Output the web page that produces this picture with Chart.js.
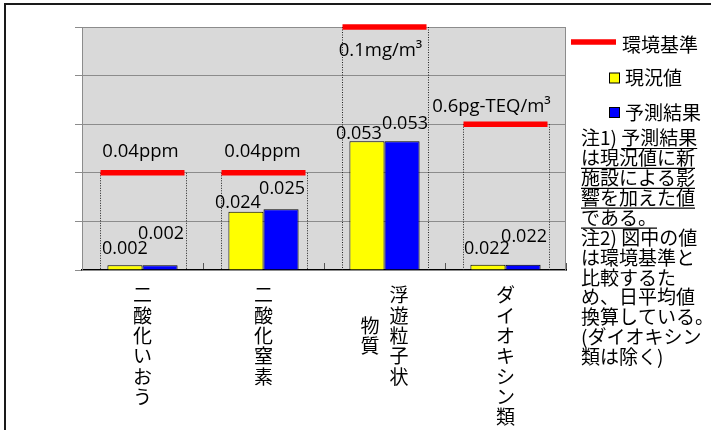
<!DOCTYPE html>
<html>
<head>
<meta charset="utf-8">
<script src="https://cdn.jsdelivr.net/npm/chart.js@4/dist/chart.umd.min.js"></script>
<style>
  html, body { margin: 0; padding: 0; background: #fff; }
  #wrap { width: 715px; height: 430px; position: relative; }
</style>
</head>
<body>
<div id="wrap"><canvas id="c" width="715" height="430"></canvas></div>
<script>
// Substances (each entry lists the vertical text columns, right to left)
const categories = [['二酸化いおう'], ['二酸化窒素'], ['浮遊粒子状', '物質'], ['ダイオキシン類']];
// Measured values, in each substance's own unit
const currentValues = [0.002, 0.024, 0.053, 0.022];
const forecastValues = [0.002, 0.025, 0.053, 0.022];
// Environmental standards and their labels
const standardValues = [0.04, 0.04, 0.1, 0.6];
const standardLabels = ['0.04ppm', '0.04ppm', '0.1mg/m³', '0.6pg-TEQ/m³'];
// Axis level at which each standard is plotted (values are scaled against it)
const standardLevels = [2, 2, 5, 3];
const yTicks = [0, 1, 2, 3, 4, 5];
const seriesNames = ['環境基準', '現況値', '予測結果'];
const valueLabels = [
  currentValues.map(String),
  forecastValues.map(String)
];
const notes = [
  '注1) 予測結果',
  'は現況値に新',
  '施設による影',
  '響を加えた値',
  'である。',
  '注2) 図中の値',
  'は環境基準と',
  '比較するた',
  'め、日平均値',
  '換算している。',
  '(ダイオキシン',
  '類は除く)'
];

// Values are drawn relative to the standard of their substance
const toLevel = (v, i) => v / standardValues[i] * standardLevels[i];
const currentLevels = currentValues.map(toLevel);
const forecastLevels = forecastValues.map(toLevel);

const RED = '#ff0000', YELLOW = '#ffff00', BLUE = '#0000ff';
const LATIN = '"Open Sans", "Liberation Sans", sans-serif';
const CJK = '"Noto Sans CJK JP", "Noto Sans", sans-serif';

const decor = {
  id: 'decor',
  beforeDraw(chart) {
    const { ctx, chartArea: a } = chart;
    ctx.save();
    ctx.fillStyle = '#fff';
    ctx.fillRect(0, 0, chart.width, chart.height);
    // outer frame
    ctx.strokeStyle = '#1a1a1a';
    ctx.lineWidth = 2;
    ctx.beginPath();
    ctx.moveTo(5, 430);
    ctx.lineTo(5, 4);
    ctx.lineTo(711, 4);
    ctx.stroke();
    // plot background
    ctx.fillStyle = '#d9d9d9';
    ctx.fillRect(a.left, a.top, a.right - a.left, a.bottom - a.top);
    ctx.restore();
  },
  beforeDatasetsDraw(chart) {
    const { ctx, chartArea: a } = chart;
    const meta = chart.getDatasetMeta(0);
    ctx.save();
    // plot frame
    ctx.strokeStyle = '#8c8c8c';
    ctx.lineWidth = 1;
    ctx.strokeRect(a.left + 0.5, a.top + 0.5, a.right - a.left - 1, a.bottom - a.top);
    // dotted drop lines under each standard line
    ctx.strokeStyle = '#222';
    ctx.setLineDash([1, 1.5]);
    meta.data.forEach(pt => {
      [-43, 43].forEach(dx => {
        const x = Math.round(pt.x + dx) + 0.5;
        ctx.beginPath();
        ctx.moveTo(x, pt.y);
        ctx.lineTo(x, a.bottom);
        ctx.stroke();
      });
    });
    ctx.restore();
  },
  afterDatasetsDraw(chart) {
    const { ctx, scales } = chart;
    ctx.save();
    ctx.fillStyle = '#000';
    ctx.textAlign = 'center';
    ctx.textBaseline = 'middle';

    // value labels above the bars
    const nudges = [
      [[0, -16], [1, -31]],
      [[-8, -9], [1, -20]],
      [[-8, -7], [3, -17]],
      [[-1, -16], [1, -28]]
    ];
    ctx.font = '18px ' + LATIN;
    [1, 2].forEach((di, s) => {
      chart.getDatasetMeta(di).data.forEach((bar, i) => {
        const [dx, dy] = nudges[i][s];
        ctx.fillText(valueLabels[s][i], bar.x + dx, bar.y + dy);
      });
    });

    // standard labels
    const stdNudge = [[-2, -21], [-1, -21], [-4, 24], [-14, -17]];
    ctx.font = '18.5px ' + LATIN;
    chart.getDatasetMeta(0).data.forEach((pt, i) => {
      ctx.fillText(standardLabels[i], pt.x + stdNudge[i][0], pt.y + stdNudge[i][1]);
    });

    // category labels, written vertically
    ctx.font = '19px ' + CJK;
    const step = 20.3, top = 285, colGap = 29;
    categories.forEach((cols, i) => {
      const cx = scales.x.getPixelForValue(i);
      const longest = Math.max(...cols.map(c => c.length));
      cols.forEach((col, k) => {
        const x = cx + ((cols.length - 1) / 2 - k) * colGap;
        const y0 = top + (longest - col.length) * step / 2;
        [...col].forEach((ch, j) => ctx.fillText(ch, x, y0 + step * (j + 0.5)));
      });
    });

    // legend
    ctx.textAlign = 'left';
    ctx.font = '19px ' + CJK;
    ctx.strokeStyle = RED;
    ctx.lineWidth = 5.5;
    ctx.beginPath();
    ctx.moveTo(571, 42);
    ctx.lineTo(616, 42);
    ctx.stroke();
    ctx.fillText(seriesNames[0], 622, 45);
    [[YELLOW, 78], [BLUE, 112.5]].forEach(([c, y], k) => {
      ctx.fillStyle = c;
      ctx.fillRect(609.5, y - 5, 10, 10);
      ctx.strokeStyle = '#000';
      ctx.lineWidth = 1;
      ctx.strokeRect(609.5, y - 5, 10, 10);
      ctx.fillStyle = '#000';
      ctx.fillText(seriesNames[k + 1], 625, y);
    });

    // notes
    const underlineFrom = [4, 0, 0, 0, 0];
    ctx.font = '19px ' + CJK;
    notes.forEach((line, i) => {
      const y = 138 + i * 19.9;
      ctx.fillText(line, 581, y);
      if (underlineFrom[i] !== undefined) {
        const x0 = 581 + ctx.measureText(line.slice(0, underlineFrom[i])).width;
        const x1 = 581 + ctx.measureText(line).width;
        ctx.strokeStyle = '#000';
        ctx.lineWidth = 1.2;
        ctx.beginPath();
        ctx.moveTo(x0, y + 10.5);
        ctx.lineTo(x1, y + 10.5);
        ctx.stroke();
      }
    });
    ctx.restore();
  }
};

new Chart(document.getElementById('c'), {
  type: 'bar',
  data: {
    labels: categories.map(c => c.join('')),
    datasets: [
      {
        type: 'line',
        label: seriesNames[0],
        data: standardLevels,
        showLine: false,
        clip: false,
        pointStyle: 'line',
        pointRadius: 42,
        pointHoverRadius: 42,
        pointBorderWidth: 5.5,
        pointHoverBorderWidth: 5.5,
        borderColor: RED,
        backgroundColor: RED
      },
      {
        label: seriesNames[1],
        data: currentLevels,
        backgroundColor: YELLOW,
        borderColor: '#000',
        borderWidth: 1,
        categoryPercentage: 0.58,
        barPercentage: 1
      },
      {
        label: seriesNames[2],
        data: forecastLevels,
        backgroundColor: BLUE,
        borderColor: '#000',
        borderWidth: 1,
        categoryPercentage: 0.58,
        barPercentage: 1
      }
    ]
  },
  options: {
    responsive: false,
    animation: false,
    events: [],
    layout: { autoPadding: false, padding: { left: 74, right: 149, top: 27, bottom: 0 } },
    plugins: { legend: { display: false }, tooltip: { enabled: false } },
    scales: {
      x: {
        ticks: { display: false },
        grid: { drawOnChartArea: false, offset: true, tickLength: -7, color: '#555' },
        border: { color: '#000', width: 1.5 },
        afterFit(s) { s.height = 160; }
      },
      y: {
        min: yTicks[0],
        max: yTicks[yTicks.length - 1],
        afterBuildTicks(s) { s.ticks = yTicks.map(v => ({ value: v })); },
        ticks: { display: false },
        grid: { color: '#8c8c8c', tickLength: 7 },
        border: { color: '#8c8c8c' },
        afterFit(s) { s.width = 8; }
      }
    }
  },
  plugins: [decor]
});
</script>
</body>
</html>
